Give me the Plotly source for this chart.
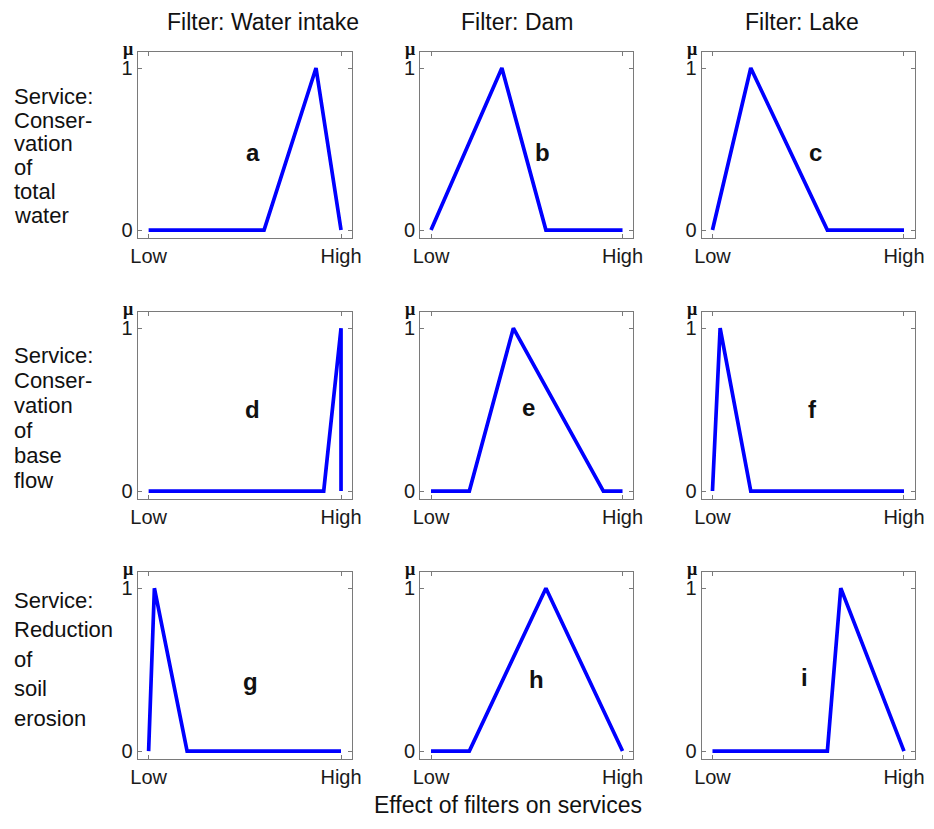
import plotly.graph_objects as go
from plotly.subplots import make_subplots

# ------------------------------
# data (x: 0 = Low, 1 = High ; y = membership mu)
col_titles = ["Filter: Water intake", "Filter: Dam", "Filter: Lake"]
row_titles = [["Service:", "Conser-", "vation", "of", "total", "water"],
              ["Service:", "Conser-", "vation", "of", "base", "flow"],
              ["Service:", "Reduction", "of", "soil", "erosion"]]
panel_letters = ["a", "b", "c", "d", "e", "f", "g", "h", "i"]
x_tick_labels = ["Low", "High"]
y_tick_labels = ["0", "1"]

x_a = [0, 0.60, 0.87, 1.0]
y_a = [0, 0, 1, 0]
x_b = [0, 0.37, 0.60, 1.0]
y_b = [0, 1, 0, 0]
x_c = [0, 0.20, 0.60, 1.0]
y_c = [0, 1, 0, 0]
x_d = [0, 0.91, 1.0, 1.0]
y_d = [0, 0, 1, 0]
x_e = [0, 0.20, 0.43, 0.90, 1.0]
y_e = [0, 0, 1, 0, 0]
x_f = [0, 0.04, 0.20, 1.0]
y_f = [0, 1, 0, 0]
x_g = [0, 0.03, 0.20, 1.0]
y_g = [0, 1, 0, 0]
x_h = [0, 0.20, 0.60, 1.0]
y_h = [0, 0, 1, 0]
x_i = [0, 0.60, 0.67, 1.0]
y_i = [0, 0, 1, 0]

series = [(x_a, y_a), (x_b, y_b), (x_c, y_c),
          (x_d, y_d), (x_e, y_e), (x_f, y_f),
          (x_g, y_g), (x_h, y_h), (x_i, y_i)]
# ------------------------------

# page body has an 8px margin; figure is shrunk to fit the window
OFF = 8
W, H = 934 - 2 * OFF, 829 - 2 * OFF
col_px = [(137, 351), (419, 632), (700, 913)]
row_px = [(52, 239), (313, 501), (574, 762)]
letter_pos = [(0.54, 0.48), (0.58, 0.48), (0.54, 0.48),
              (0.54, 0.50), (0.51, 0.51), (0.52, 0.50),
              (0.53, 0.43), (0.55, 0.44), (0.48, 0.45)]
row_line_span = [(96.5, 216.5), (356.7, 482.7), (602.6, 721.0)]


def px(v):
    # horizontal page pixel -> paper fraction (empirical correction for the photo)
    t = (v - 6.7) / 0.981
    return (t - OFF) / W


def py(v):
    return 1 - (v - OFF) / H


FONT = "Liberation Sans, Arial, sans-serif"
FRAME = "#7a7a7a"

fig = make_subplots(rows=3, cols=3)

for idx, (xs, ys) in enumerate(series):
    r, c = idx // 3 + 1, idx % 3 + 1
    fig.add_trace(go.Scatter(x=xs, y=ys, mode="lines",
                             line=dict(color="#0000ff", width=3.7),
                             showlegend=False), row=r, col=c)

    n = "" if idx == 0 else str(idx + 1)
    x0, x1 = col_px[c - 1]
    t0, t1 = row_px[r - 1]
    fig.update_layout({
        f"xaxis{n}": dict(domain=[px(x0), px(x1)], range=[-0.057, 1.057],
                          tickvals=[0, 1], ticktext=x_tick_labels,
                          ticks="inside", ticklen=4, tickcolor=FRAME,
                          showline=True, linecolor=FRAME, linewidth=1,
                          mirror="ticks", showgrid=False, zeroline=False,
                          tickfont=dict(family=FONT, size=20, color="#1a1a1a")),
        f"yaxis{n}": dict(domain=[py(t1), py(t0)], range=[-0.05, 1.1],
                          tickvals=[0, 1], ticktext=y_tick_labels,
                          ticks="inside", ticklen=4, tickcolor=FRAME,
                          showline=True, linecolor=FRAME, linewidth=1,
                          mirror="ticks", showgrid=False, zeroline=False,
                          tickfont=dict(family=FONT, size=20, color="#1a1a1a")),
    })

    xref = "x" + n
    yref = "y" + n
    # panel letter
    lx, ly = letter_pos[idx]
    fig.add_annotation(x=lx, y=ly, xref=xref, yref=yref, text="<b>%s</b>" % panel_letters[idx],
                       showarrow=False, font=dict(family=FONT, size=24, color="#111"))
    # mu label on top of y axis
    fig.add_annotation(x=0, y=1, xref=xref + " domain", yref=yref + " domain",
                       text="<b>μ</b>", showarrow=False, xanchor="right", yanchor="middle",
                       xshift=-3, yshift=3,
                       font=dict(family="Liberation Serif, serif", size=18, color="#111"))

# column titles
title_x = [262, 516, 800]
for t, cx in zip(col_titles, title_x):
    fig.add_annotation(x=px(cx), y=py(22), xref="paper", yref="paper", text=t,
                       showarrow=False, xanchor="center", yanchor="middle",
                       font=dict(family=FONT, size=23, color="#111"))

# row titles, one annotation per line to keep the tight line spacing
for lines, (y_first, y_last) in zip(row_titles, row_line_span):
    step = (y_last - y_first) / (len(lines) - 1)
    for k, line in enumerate(lines):
        fig.add_annotation(x=px(12), y=py(y_first + k * step), xref="paper", yref="paper",
                           text=line, showarrow=False, xanchor="left", yanchor="middle",
                           font=dict(family=FONT, size=22, color="#111"))

# common x label
fig.add_annotation(x=px(507), y=py(808), xref="paper", yref="paper",
                   text="Effect of filters on services", showarrow=False,
                   xanchor="center", yanchor="middle",
                   font=dict(family=FONT, size=23, color="#111"))

fig.update_layout(width=W, height=H, margin=dict(l=0, r=0, t=0, b=0),
                  plot_bgcolor="white", paper_bgcolor="white")

fig.write_html("out.html")
